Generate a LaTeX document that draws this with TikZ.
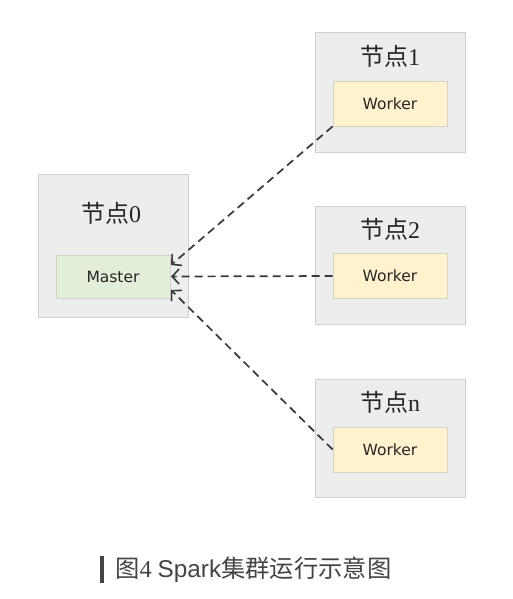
\documentclass[tikz,border=0pt]{standalone}
\usepackage{fontspec}
\setmainfont{Liberation Serif}
\setsansfont{Liberation Sans}
\newfontfamily\cjk{Noto Sans CJK SC}
\newfontfamily\lab{DejaVu Sans}
\usetikzlibrary{arrows.meta}
\definecolor{outerfill}{HTML}{ECEEEE}
\definecolor{outerdraw}{HTML}{CFCFCF}
\definecolor{masterfill}{HTML}{E2EED9}
\definecolor{workerfill}{HTML}{FFF2CC}
\definecolor{innerdraw}{HTML}{D2D2C8}
\definecolor{linec}{HTML}{383838}
\definecolor{capc}{HTML}{444444}
\begin{document}
\begin{tikzpicture}[x=1pt,y=-1pt,
  outerbox/.style={draw=outerdraw,fill=outerfill,line width=1pt,minimum width=150pt,inner sep=0pt},
  masterbox/.style={draw=innerdraw,fill=masterfill,line width=0.8pt,minimum width=114pt,minimum height=43pt,inner sep=0pt,font=\lab\fontsize{15.5}{18}\selectfont,text=black!85},
  workerbox/.style={masterbox,fill=workerfill,minimum height=45pt},
  ttl/.style={font=\fontsize{24}{28}\selectfont,text=black!85},
  conn/.style={draw=linec,line width=1.7pt,dash pattern=on 8pt off 5pt,-{Straight Barb[length=7pt,width=15pt,line width=1.6pt]}}
]
\useasboundingbox (0,0) rectangle (513,599);
% node 0
\node[outerbox,minimum height=143pt] (n0) at (113,245.5) {};
\node[ttl] (t0) at (111,213) {{\cjk 节点}0};
\node[masterbox] (m) at (113,276.5) {Master};
% node 1
\node[outerbox,minimum height=119pt] (n1) at (390,92.5) {};
\node[ttl] (t1) at (390,56) {{\cjk 节点}1};
\node[workerbox] (w1) at (390,103.5) {Worker};
% node 2
\node[outerbox,minimum height=118pt] (n2) at (390,265) {};
\node[ttl] (t2) at (390,229) {{\cjk 节点}2};
\node[workerbox] (w2) at (390,276) {Worker};
% node n
\node[outerbox,minimum height=118pt] (nn) at (390,438) {};
\node[ttl] (tn) at (390,402) {{\cjk 节点}n};
\node[workerbox] (wn) at (390,449.5) {Worker};
% connectors
\coordinate (a1) at (171,265);
\coordinate (a2) at (171,276.5);
\coordinate (a3) at (171,290);
\draw[conn] (w1.south west) -- (a1);
\draw[conn] (w2.west) -- (a2);
\draw[conn] (wn.west) -- (a3);
% caption
\fill[capc] (100,556) rectangle (104,583);
\node[anchor=west,inner sep=0pt,text=capc,font=\fontsize{24.3}{28}\selectfont] (cap) at (115,570) {{\cjk 图}4 {\sffamily Spark}{\cjk 集群运行示意图}};
\end{tikzpicture}
\end{document}
